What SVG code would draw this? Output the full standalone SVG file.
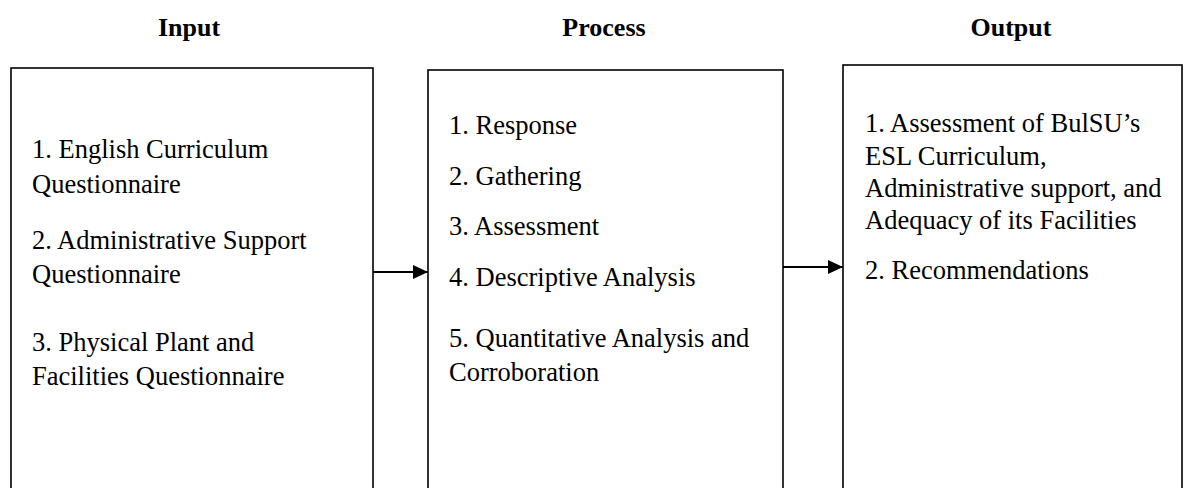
<svg xmlns="http://www.w3.org/2000/svg" width="1192" height="488" viewBox="0 0 1192 488">
<style>
.box{fill:#fff;stroke:#000;stroke-width:1.6}
.t{font-family:"Liberation Serif","Times New Roman",serif;font-size:26.5px;fill:#000}
.h{font-family:"Liberation Serif","Times New Roman",serif;font-size:26px;font-weight:bold;fill:#000;text-anchor:middle}
.c{stroke:#000;stroke-width:2.2;fill:none}
</style>
<defs>
<marker id="ah" viewBox="0 0 15 14" refX="15" refY="7" markerWidth="15" markerHeight="14" markerUnits="userSpaceOnUse" orient="auto">
<path d="M0,0 L15,7 L0,14 Z" fill="#000"/>
</marker>
</defs>
<g id="titles">
<text class="h" x="189" y="36">Input</text>
<text class="h" x="604" y="36">Process</text>
<text class="h" x="1011" y="36">Output</text>
</g>
<g id="input">
<rect class="box" x="11" y="68" width="362" height="440"/>
<text class="t" x="32" y="158">1. English Curriculum</text>
<text class="t" x="32" y="193">Questionnaire</text>
<text class="t" x="32" y="249">2. Administrative Support</text>
<text class="t" x="32" y="283">Questionnaire</text>
<text class="t" x="32" y="351">3. Physical Plant and</text>
<text class="t" x="32" y="385">Facilities Questionnaire</text>
</g>
<g id="process">
<rect class="box" x="428" y="70" width="355" height="440"/>
<text class="t" x="449" y="134">1. Response</text>
<text class="t" x="449" y="185">2. Gathering</text>
<text class="t" x="449" y="235">3. Assessment</text>
<text class="t" x="449" y="286">4. Descriptive Analysis</text>
<text class="t" x="449" y="347">5. Quantitative Analysis and</text>
<text class="t" x="449" y="381">Corroboration</text>
</g>
<g id="output">
<rect class="box" x="843" y="65" width="339" height="440"/>
<text class="t" x="865" y="132">1. Assessment of BulSU’s</text>
<text class="t" x="865" y="165">ESL Curriculum,</text>
<text class="t" x="865" y="197">Administrative support, and</text>
<text class="t" x="865" y="229">Adequacy of its Facilities</text>
<text class="t" x="865" y="279">2. Recommendations</text>
</g>
<g id="connectors">
<line class="c" x1="373" y1="272" x2="428" y2="272" marker-end="url(#ah)"/>
<line class="c" x1="783" y1="267" x2="843" y2="267" marker-end="url(#ah)"/>
</g>
</svg>
